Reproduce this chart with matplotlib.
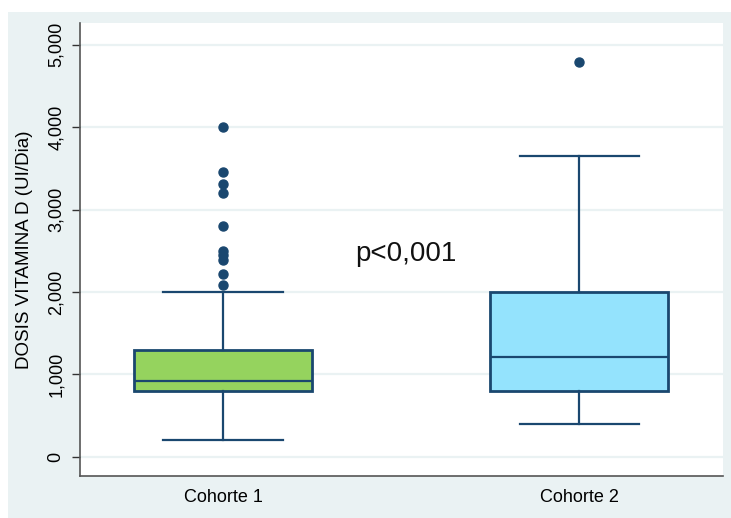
import matplotlib
matplotlib.use("Agg")
import matplotlib.pyplot as plt
from matplotlib.patches import Rectangle

plt.rcParams['font.family'] = ['Liberation Sans', 'DejaVu Sans']

categories = ["Cohorte 1", "Cohorte 2"]
q1 = [800, 800]
median = [920, 1210]
q3 = [1300, 2000]
whislo = [200, 400]
whishi = [2000, 3650]
fliers = [[4000, 3460, 3310, 3200, 2800, 2500, 2450, 2390, 2220, 2080],
          [4790]]
box_colors = ["#95D35E", "#94E3FD"]
yticks = [0, 1000, 2000, 3000, 4000, 5000]
ytick_labels = ["0", "1,000", "2,000", "3,000", "4,000", "5,000"]
annotation = "p<0,001"
ylabel = "DOSIS VITAMINA D (UI/Dia)"

navy = "#1A476F"
bg = "#EAF2F3"

fig = plt.figure(figsize=(7.31, 5.18), dpi=100)
fig.patch.set_facecolor("white")
fig.patches.append(Rectangle((8/731, 0), 1 - 8/731, 1 - 12/518,
                             transform=fig.transFigure, facecolor=bg,
                             edgecolor="none", zorder=-10))

ax = fig.add_axes([80/731, 1 - 476/518, (723 - 80)/731, (476 - 23)/518])
ax.set_facecolor("white")

stats = []
for i, c in enumerate(categories):
    stats.append(dict(label=c, q1=q1[i], med=median[i], q3=q3[i],
                      whislo=whislo[i], whishi=whishi[i], fliers=fliers[i]))

bp = ax.bxp(stats, positions=[1, 2], widths=0.5, capwidths=0.335,
            patch_artist=True, showfliers=True,
            boxprops=dict(edgecolor=navy, linewidth=2.0),
            medianprops=dict(color=navy, linewidth=1.6),
            whiskerprops=dict(color=navy, linewidth=1.6),
            capprops=dict(color=navy, linewidth=1.6),
            flierprops=dict(marker='o', markerfacecolor=navy,
                            markeredgecolor=navy, markersize=6.5))
for patch, col in zip(bp['boxes'], box_colors):
    patch.set_facecolor(col)
for artist_list in bp.values():
    for a in artist_list:
        a.set_zorder(3)

ax.set_xlim(0.598, 2.404)
ax.set_ylim(-235, 5265)
ax.set_yticks(yticks)
ax.set_yticklabels(ytick_labels, rotation=90, va='center', fontsize=13)
ax.set_xticks([1, 2])
ax.set_xticklabels(categories, fontsize=13)
ax.tick_params(axis='x', length=0, pad=9)
ax.tick_params(axis='y', length=6, width=1, color="#333333", pad=5)
ax.yaxis.grid(True, color=bg, linewidth=1.6, zorder=0)
ax.set_axisbelow(True)

for s in ["top", "right"]:
    ax.spines[s].set_visible(False)
for s in ["left", "bottom"]:
    ax.spines[s].set_color("#555555")
    ax.spines[s].set_linewidth(1.2)

ax.set_ylabel(ylabel, fontsize=13.5, labelpad=6)
ax.yaxis.set_label_coords(-(80 - 33) / 643, 0.5)

ax.text(1.514, 2380, annotation, fontsize=20, ha='center', va='baseline',
        color="#111111")

fig.savefig("out.png", dpi=100, facecolor=fig.get_facecolor())
